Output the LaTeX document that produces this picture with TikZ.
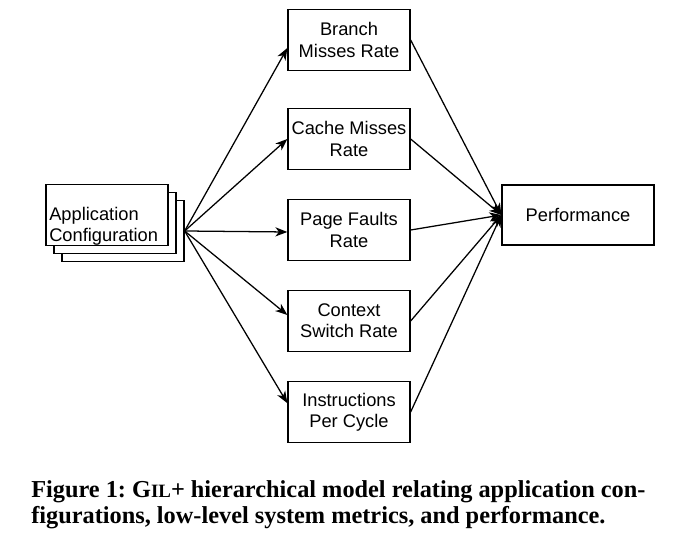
\documentclass[tikz,border=0pt]{standalone}
\usepackage{fontspec}
\setmainfont{Liberation Serif}
\newfontfamily\boxfont{Liberation Sans}
\usetikzlibrary{positioning,arrows.meta}
\frenchspacing

\begin{document}
\begin{tikzpicture}[
  x=0.025cm,y=-0.025cm,
  box/.style={draw,line width=0.9pt,fill=white,minimum width=3.05cm,minimum height=1.52cm,
              font=\boxfont\fontsize{13}{15}\selectfont,align=center,inner sep=2pt},
  lbl/.style={font=\boxfont\fontsize{13}{15}\selectfont,align=left,inner sep=0pt},
  captext/.style={font=\bfseries\fontsize{17.3}{20}\selectfont,inner sep=0pt},
  link/.style={->,line width=0.9pt},
  >={Stealth[length=8.5pt,width=6.5pt,inset=2.5pt]}
]
  \useasboundingbox (0,0) rectangle (680,536);

  %% ===== input: stacked configuration boxes =====
  \node[box] (app3) at (123,231) {};
  \node[box] (app2) at (115,223) {};
  \node[box] (app) at (107,215) {};
  \node[lbl,anchor=west] (apptext) at (49,226) {Application\\Configuration};

  %% ===== middle: low-level metrics =====
  \node[box] (branch) at (349,40)  {Branch\\Misses Rate};
  \node[box] (cache)  at (349,139) {Cache Misses\\Rate};
  \node[box] (fault)  at (349,230) {Page Faults\\Rate};
  \node[box] (ctx)    at (349,321) {Context\\Switch Rate};
  \node[box] (ipc)    at (349,412) {Instructions\\Per Cycle};

  %% ===== output =====
  \node[box,minimum width=3.8cm,minimum height=1.5cm] (perf) at (578,215) {Performance};

  % configuration -> metrics
  \draw[link] (app3.east) -- ([yshift=-0.2cm]branch.west);
  \draw[link] (app3.east) -- (cache.west);
  \draw[link] (app3.east) -- ([yshift=-0.05cm]fault.west);
  \draw[link] (app3.east) -- ([yshift=0.15cm]ctx.west);
  \draw[link] (app3.east) -- ([yshift=0.22cm]ipc.west);

  % metrics -> performance
  \foreach \m in {branch,cache,fault,ctx,ipc}
    \draw[link] (\m.east) -- (perf.west);

  %% ===== caption =====
  \node[captext,anchor=base west] (cap1) at (31,498)
    {Figure 1: G{\fontsize{13.4}{15}\selectfont IL}+ hierarchical model relating application con-};
  \node[captext,anchor=base west] (cap2) at (31,524)
    {figurations, low-level system metrics, and performance.};

\end{tikzpicture}
\end{document}
